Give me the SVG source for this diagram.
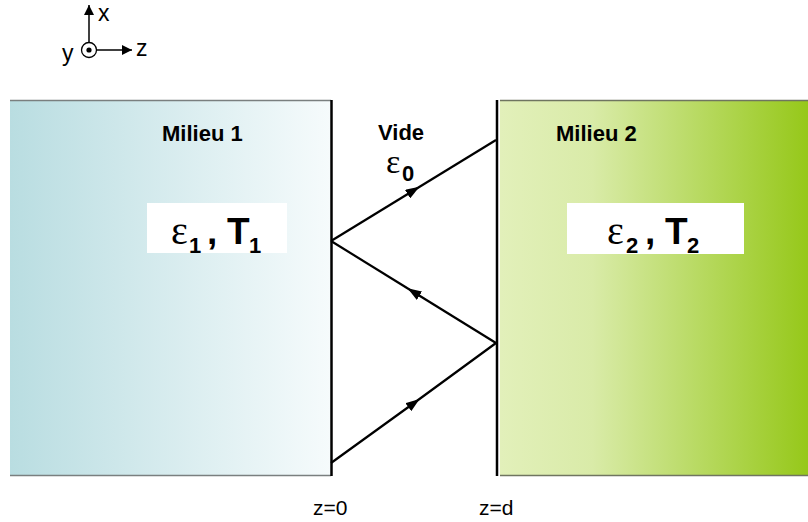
<svg xmlns="http://www.w3.org/2000/svg" width="808" height="522" viewBox="0 0 808 522">
<defs>
<linearGradient id="g1" x1="0" y1="0" x2="1" y2="0">
<stop offset="0" stop-color="#b9dde1"/>
<stop offset="1" stop-color="#f6fbfc"/>
</linearGradient>
<linearGradient id="g2" x1="0" y1="0" x2="1" y2="0">
<stop offset="0" stop-color="#e2f0ba"/>
<stop offset="0.3" stop-color="#d9eba8"/>
<stop offset="1" stop-color="#96c81a"/>
</linearGradient>
<marker id="ah" viewBox="0 0 10 10" refX="10" refY="5" markerWidth="10" markerHeight="10" markerUnits="userSpaceOnUse" orient="auto">
<path d="M0,0 L10,5 L0,10 z" fill="#000"/>
</marker>
<marker id="mid" viewBox="0 0 14 10" refX="7" refY="5" markerWidth="14" markerHeight="10" markerUnits="userSpaceOnUse" orient="auto">
<path d="M0,0 L14,5 L0,10 z" fill="#000"/>
</marker>
</defs>
<style>
.lbl{font-family:"Liberation Sans",Arial,sans-serif;font-size:22px;font-weight:bold;fill:#000}
.ax{font-family:"Liberation Sans",Arial,sans-serif;font-size:23px;fill:#000}
.z{font-family:"Liberation Sans",Arial,sans-serif;font-size:21px;fill:#000}
.eps{font-family:"Liberation Serif","Times New Roman",serif;font-size:40px;fill:#000}
.sub{font-family:"Liberation Sans",Arial,sans-serif;font-size:22px;font-weight:bold;fill:#000}
.T{font-family:"Liberation Sans",Arial,sans-serif;font-size:37px;font-weight:bold;fill:#000}
.ray{stroke:#000;stroke-width:2.2;fill:none}
</style>
<g id="axes">
<line x1="89" y1="42" x2="89" y2="5" stroke="#000" stroke-width="1.5" marker-end="url(#ah)"/>
<line x1="97" y1="50" x2="132" y2="50" stroke="#000" stroke-width="1.5" marker-end="url(#ah)"/>
<circle cx="89" cy="50" r="7.5" fill="#fff" stroke="#000" stroke-width="1.3"/>
<circle cx="89" cy="50" r="2.6" fill="#000"/>
<text class="ax" x="98" y="21">x</text>
<text class="ax" x="136" y="56">z</text>
<text class="ax" x="62" y="61">y</text>
</g>
<g id="milieu1">
<rect x="10" y="100" width="321" height="376" fill="url(#g1)"/>
<line x1="10" y1="100.5" x2="331" y2="100.5" stroke="#7a7f7f" stroke-width="1.5"/>
<line x1="10" y1="475.5" x2="331" y2="475.5" stroke="#7a7f7f" stroke-width="1.5"/>
<line x1="331.5" y1="100" x2="331.5" y2="476" stroke="#000" stroke-width="2.5"/>
<text class="lbl" x="162" y="141">Milieu 1</text>
<rect x="147" y="203" width="140" height="50" fill="#fff"/>
<text class="eps" x="171" y="244">ε</text>
<text class="sub" x="189" y="253">1</text>
<text class="T" x="207" y="244">,</text>
<text class="T" x="227" y="244">T</text>
<text class="sub" x="249" y="253">1</text>
</g>
<g id="vide">
<text class="lbl" x="378" y="140">Vide</text>
<text class="eps" x="386" y="173" style="font-size:34px">ε</text>
<text class="sub" x="402" y="181">0</text>
</g>
<g id="milieu2">
<rect x="500" y="100" width="308" height="376" fill="url(#g2)"/>
<line x1="500" y1="100.5" x2="808" y2="100.5" stroke="#6f7560" stroke-width="1.5"/>
<line x1="500" y1="475.5" x2="808" y2="475.5" stroke="#6f7560" stroke-width="1.5"/>
<line x1="497" y1="100" x2="497" y2="476" stroke="#000" stroke-width="2.5"/>
<text class="lbl" x="556" y="141">Milieu 2</text>
<rect x="567" y="203" width="177" height="51" fill="#fff"/>
<text class="eps" x="607" y="244">ε</text>
<text class="sub" x="626" y="253">2</text>
<text class="T" x="645" y="244">,</text>
<text class="T" x="665" y="244">T</text>
<text class="sub" x="687" y="253">2</text>
</g>
<g id="connectors">
<polyline class="ray" points="331,463 414,403 496,343" marker-mid="url(#mid)"/>
<polyline class="ray" points="496,343 413.5,292 331,241" marker-mid="url(#mid)"/>
<polyline class="ray" points="331,241 413.5,190.5 496,140" marker-mid="url(#mid)"/>
</g>
<g id="labels">
<text class="z" x="313" y="515">z=0</text>
<text class="z" x="479" y="515">z=d</text>
</g>
</svg>
